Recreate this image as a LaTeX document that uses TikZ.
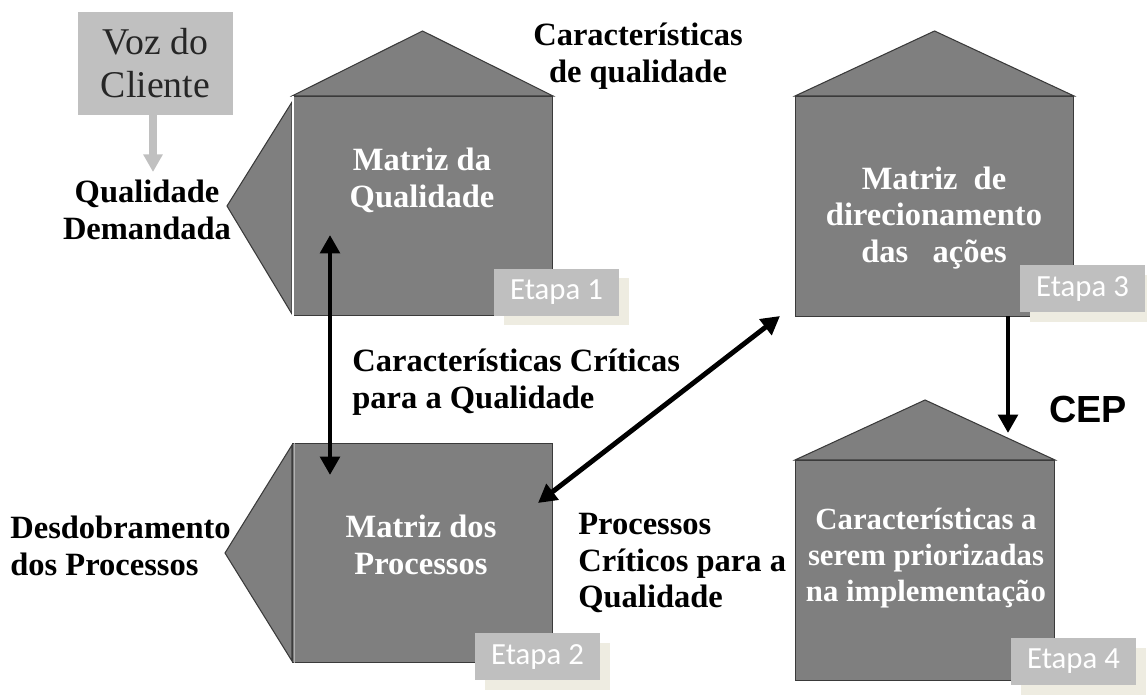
\documentclass[tikz,border=0pt]{standalone}
\usepackage{fontspec}
\setmainfont{Liberation Serif}
\newfontfamily\etapafont{Carlito}
\newfontfamily\cepfont{Liberation Sans}
\usetikzlibrary{arrows.meta,positioning,calc,shadows}
\definecolor{matgray}{HTML}{7F7F7F}
\definecolor{edgegray}{HTML}{3A3A3A}
\definecolor{etagray}{HTML}{BFBFBF}
\definecolor{etashadow}{HTML}{EEECE1}
\definecolor{vozgray}{HTML}{C0C0C0}
\tikzset{>={Triangle[length=10.5pt,width=11pt]}}

\begin{document}
\begin{tikzpicture}[x=0.2mm,y=-0.2mm,
  matbox/.style={fill=matgray,draw=edgegray,line width=0.6pt,inner sep=0pt,anchor=north west},
  lado/.style={fill=matgray,draw=edgegray,line width=0.6pt},
  mattext/.style={text=white,font=\bfseries\fontsize{18.5}{21}\selectfont,align=center},
  rotulo/.style={font=\bfseries\fontsize{18.5}{21}\selectfont},
  etapa/.style={fill=etagray,text=white,font=\etapafont\fontsize{17.5}{20}\selectfont,
    minimum width=25mm,minimum height=9.4mm,inner sep=0pt,
    drop shadow={shadow xshift=1.9mm,shadow yshift=-1.9mm,fill=etashadow,opacity=1}},
  seta/.style={line width=2.8pt}]
\useasboundingbox (0,0) rectangle (1147,697);

% voz do cliente
\node[fill=vozgray,minimum width=31mm,minimum height=20.6mm,align=center,
  text=black!85,font=\fontsize{21.5}{24.5}\selectfont] (voz) at (155.5,63.5) {Voz do\\Cliente};
\node[rotulo,align=center] (qd) at (147,210) {Qualidade\\Demandada};
\draw[vozgray,line width=4pt,-{Triangle[length=10pt,width=10.5pt]}] (voz.south -| 153,0) -- (153,172);

% etapa 1
\node[matbox,minimum width=52mm,minimum height=43.8mm] (m1) at (292,96) {};
\draw[lado] ($(m1.north west)+(0,6)$) -- ($(m1.west)+(-65,0)$) -- ($(m1.south west)+(0,-2)$) -- cycle;
\draw[lado] (m1.north west) -- ($(m1.north)+(0,-65)$) -- (m1.north east) -- cycle;
\draw[white,line width=1pt] ([xshift=0.6pt]m1.north west) -- ([xshift=0.6pt]m1.south west);
\node[mattext] (t1) at (422,180) {Matriz da\\Qualidade};
\node[etapa] (e1) at (556.5,292.5) {Etapa 1};
\node[rotulo,align=center] (cq) at (638,56) {Características\\de qualidade};

% etapa 2
\node[matbox,minimum width=52mm,minimum height=43.8mm] (m2) at (292,443) {};
\draw[lado] ($(m2.north west)+(0,2)$) -- ($(m2.west)+(-67,0)$) -- ($(m2.south west)+(0,-2)$) -- cycle;
\draw[edgegray!40!white,line width=0.8pt] ([xshift=1.4pt]m2.north west) -- ([xshift=1.4pt]m2.south west);
\node[mattext] (t2) at (421,545) {Matriz dos\\Processos};
\node[etapa] (e2) at (537.5,656.5) {Etapa 2};
\node[rotulo,align=left,anchor=west,inner sep=0pt] (dp) at (10,546) {Desdobramento\\dos Processos};
\node[rotulo,align=left,anchor=west,inner sep=0pt] (pcq) at (578,563) {Processos\\Críticos para a\\Qualidade};
\node[rotulo,align=left,anchor=west,inner sep=0pt] (ccq) at (352,382) {Características Críticas\\para a Qualidade};

% etapa 3
\node[matbox,minimum width=55.6mm,minimum height=44mm] (m3) at (795,96) {};
\draw[lado] (m3.north west) -- ($(m3.north)+(0,-65)$) -- (m3.north east) -- cycle;
\node[mattext] (t3) at (934,218) {Matriz\ \ de\\direcionamento\\das\ \ \ ações};
\node[etapa] (e3) at (1082.5,289) {Etapa 3};

% etapa 4
\node[matbox,minimum width=51.8mm,minimum height=44mm] (m4) at (795,460) {};
\draw[lado] (m4.north west) -- ($(m4.north)+(0,-60)$) -- (m4.north east) -- cycle;
\node[mattext,font=\bfseries\fontsize{17.5}{20.5}\selectfont] (t4) at (926,558) {Características a\\serem priorizadas\\na implementação};
\node[etapa] (e4) at (1073.5,661.5) {Etapa 4};
\node[font=\cepfont\bfseries\fontsize{21.5}{24}\selectfont] (cep) at (1088,409) {CEP};

% setas
\coordinate (q1) at (330,235);
\coordinate (q2) at (330,475);
\coordinate (p1) at (538,503);
\coordinate (p2) at (780,316);
\coordinate (c1) at (1008,316);
\coordinate (c2) at (1008,433);
\draw[seta,<->] (q1) -- (q2);
\draw[seta,<->] (p1) -- (p2);
\draw[seta,->] (c1) -- (c2);
\end{tikzpicture}
\end{document}
